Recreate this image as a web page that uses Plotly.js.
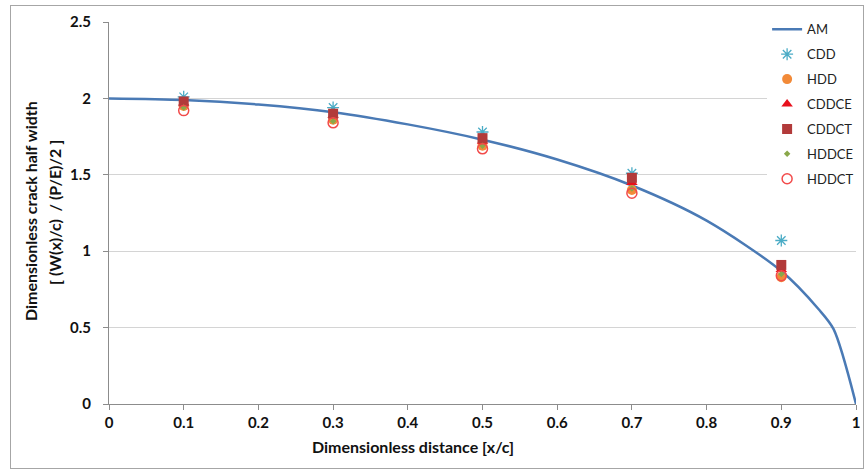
<!DOCTYPE html>
<html>
<head>
<meta charset="utf-8">
<script src="https://cdn.plot.ly/plotly-3.0.1.min.js"></script>
<style>
  html, body { margin: 0; padding: 0; background: #fff; }
  #wrap { position: relative; width: 865px; height: 476px; }
  #chart { width: 865px; height: 476px; }
  #frame { position: absolute; left: 10px; top: 5px; width: 852px; height: 462px;
           border: 1px solid #a6a6a6; pointer-events: none; }
</style>
</head>
<body>
<div id="wrap">
  <div id="chart"></div>
  <div id="frame"></div>
</div>
<script>
// Analytical model (AM) curve
const amX = [0, 0.1, 0.2, 0.3, 0.4, 0.5, 0.6, 0.7, 0.8, 0.9, 0.95, 0.97, 1.0];
const amY = [2.00, 1.99, 1.96, 1.91, 1.83, 1.73, 1.60, 1.43, 1.20, 0.87, 0.62, 0.49, 0.00];

// Numerical results at sample points
const ptX   = [0.1, 0.3, 0.5, 0.7, 0.9];
const cdd   = [2.01, 1.94, 1.78, 1.51, 1.07];
const hdd   = [1.95, 1.86, 1.69, 1.40, 0.83];
const cddce = [1.97, 1.89, 1.72, 1.45, 0.88];
const cddct = [1.98, 1.90, 1.74, 1.48, 0.91];
const hddce = [1.94, 1.85, 1.69, 1.41, 0.85];
const hddct = [1.92, 1.84, 1.67, 1.38, 0.84];

const xTicks = [0, 0.1, 0.2, 0.3, 0.4, 0.5, 0.6, 0.7, 0.8, 0.9, 1];
const yTicks = [0, 0.5, 1, 1.5, 2, 2.5];

const FONT = 'Lato, "Open Sans", "DejaVu Sans", sans-serif';

function pts(name, ys, marker) {
  return { type: 'scatter', mode: 'markers', name: name, legendgroup: name,
           x: ptX, y: ys, marker: marker, cliponaxis: false };
}

const traces = [
  { type: 'scatter', mode: 'lines', name: 'AM', legendgroup: 'AM', x: amX, y: amY,
    line: { color: '#4a7ab5', width: 2.5, shape: 'spline', smoothing: 0.8 } },
  pts('CDD', cdd, { symbol: 'asterisk-open', size: 10, color: '#4bacc6',
                    line: { color: '#4bacc6', width: 1.3 } }),
  pts('HDD', hdd, { symbol: 'circle', size: 10, color: '#f28a38' }),
  pts('CDDCE', cddce, { symbol: 'triangle-up', size: 10, color: '#e8101c' }),
  pts('CDDCT', cddct, { symbol: 'square', size: 10, color: '#b23a3a' }),
  pts('HDDCE', hddce, { symbol: 'diamond', size: 5, color: '#8aa84a' }),
  pts('HDDCT', hddct, { symbol: 'circle-open', size: 10, color: '#f24a4a',
                        line: { color: '#f24a4a', width: 1.5 } })
];

const layout = {
  width: 865, height: 476,
  margin: { l: 109, r: 9, t: 22, b: 72, autoexpand: false },
  paper_bgcolor: '#ffffff', plot_bgcolor: '#ffffff',
  font: { family: FONT, size: 13, color: '#222' },
  showlegend: true,
  legend: {
    x: 0.881, xanchor: 'left', y: 1.02, yanchor: 'top',
    bgcolor: '#ffffff', borderwidth: 0,
    font: { family: FONT, size: 13, color: '#222' },
    tracegroupgap: 5, itemwidth: 30
  },
  xaxis: {
    range: [0, 1], tickvals: xTicks, ticktext: xTicks.map(String),
    showgrid: false, zeroline: false,
    showline: true, linecolor: '#8c8c8c', linewidth: 1,
    ticks: 'outside', ticklen: 5, tickcolor: '#8c8c8c',
    tickfont: { family: FONT, size: 15, color: '#111', weight: 'bold' }
  },
  yaxis: {
    range: [0, 2.5], tickvals: yTicks, ticktext: yTicks.map(String),
    showgrid: true, gridcolor: '#d4d4d4', gridwidth: 1, zeroline: false,
    showline: true, linecolor: '#8c8c8c', linewidth: 1,
    ticks: 'outside', ticklen: 5, tickcolor: '#8c8c8c', ticklabelstandoff: 9,
    tickfont: { family: FONT, size: 15, color: '#111', weight: 'bold' }
  },
  annotations: [
    { xref: 'paper', yref: 'paper', x: (413 - 109) / 747, y: -(447 - 404) / 382,
      xanchor: 'center', yanchor: 'middle', showarrow: false,
      text: 'Dimensionless distance [x/c]',
      font: { family: FONT, size: 16, color: '#111', weight: 'bold' } },
    { xref: 'paper', yref: 'paper', x: -(109 - 30) / 747, y: (404 - 211) / 382,
      xanchor: 'center', yanchor: 'middle', showarrow: false, textangle: -90,
      text: 'Dimensionless crack half width',
      font: { family: FONT, size: 16, color: '#111', weight: 'bold' } },
    { xref: 'paper', yref: 'paper', x: -(109 - 54) / 747, y: (404 - 213) / 382,
      xanchor: 'center', yanchor: 'middle', showarrow: false, textangle: -90,
      text: '[ (W(x)/c)  / (P/E)/2 ]',
      font: { family: FONT, size: 16, color: '#111', weight: 'bold' } }
  ]
};

Plotly.newPlot('chart', traces, layout, { displayModeBar: false, staticPlot: true });
</script>
</body>
</html>
